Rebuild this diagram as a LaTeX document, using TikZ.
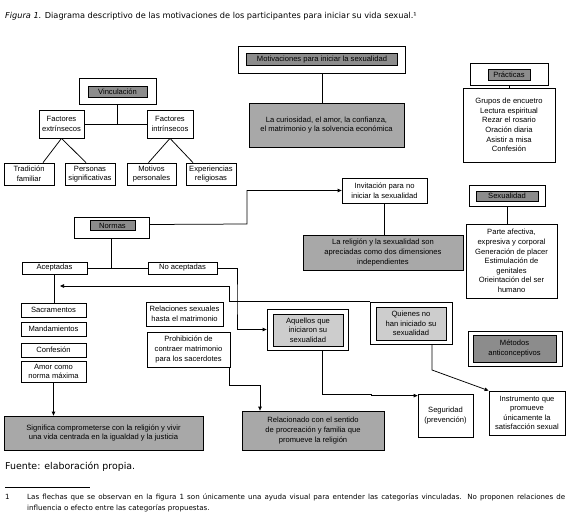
\documentclass[tikz,border=0pt]{standalone}
\usepackage{fontspec}
\setmainfont{Liberation Sans}
\newfontfamily\ttlfont{DejaVu Sans}
\usetikzlibrary{arrows.meta,calc}
\newcommand\dgfont{\fontsize{7.6}{9.6}\selectfont}
\definecolor{gdark}{HTML}{8C8C8C}
\definecolor{gmid}{HTML}{A8A8A8}
\definecolor{glight}{HTML}{CDCDCD}
\begin{document}
\begin{tikzpicture}[x=1pt,y=-1pt,
  bx/.style={draw,line width=0.75pt,inner sep=0pt,align=center,font=\dgfont,fill=white},
  outer/.style={draw,line width=0.75pt,inner sep=0pt,fill=white},
  hdr/.style={draw,line width=0.5pt,inner sep=0pt,align=center,font=\dgfont,fill=gdark},
  mid/.style={bx,fill=gmid},
  lite/.style={draw,line width=0.5pt,inner sep=0pt,align=center,font=\dgfont,fill=glight},
  ln/.style={line width=0.75pt},
  arr/.style={line width=0.75pt,-{Triangle[length=4pt,width=3.5pt]}},
  wd/.style={minimum width=#1},
  ht/.style={minimum height=#1}]
\useasboundingbox (0,0) rectangle (567,522);

% title
\node[anchor=west,inner sep=0pt,font=\ttlfont\fontsize{8.2}{9}\selectfont] (title) at (5,16)
  {\textit{Figura 1.} Diagrama descriptivo de las motivaciones de los participantes para iniciar su vida sexual.¹};

% Motivaciones
\node[outer,wd=167,ht=27] (motO) at (322,59.5) {};
\node[hdr,wd=151,ht=12] (motI) at (322,59.5) {Motivaciones para iniciar la sexualidad};
\node[mid,wd=155,ht=44] (cur) at (326.5,125) {La curiosidad, el amor, la confianza,\\el matrimonio y la solvencia económica};
\draw[ln] (motO.south) -- (motO.south |- cur.north);

% Practicas
\node[outer,wd=78,ht=22] (pracO) at (509,74) {};
\node[hdr,wd=42,ht=11] (pracI) at (509,74.5) {Prácticas};
\node[bx,wd=92,ht=74] (pracL) at (509,125) {Grupos de encuetro\\Lectura espiritual\\Rezar el rosario\\Oración diaria\\Asistir a misa\\Confesión};
\draw[ln] (pracO.south) -- (pracL.north);

% Vinculacion
\node[outer,wd=77,ht=26] (vinO) at (117.5,91) {};
\node[hdr,wd=59,ht=11] (vinI) at (117.5,92) {Vinculación};
\node[bx,wd=45,ht=28] (fext) at (61.5,124) {Factores\\extrínsecos};
\node[bx,wd=46,ht=28] (fint) at (170,124) {Factores\\intrínsecos};
\draw[ln] (fext.east) -- (fint.west);
\draw[ln] (vinO.south) -- (vinO.south |- fext.east);
\node[bx,wd=50,ht=22] (trad) at (29,174) {Tradición\\familiar};
\node[bx,wd=50,ht=22] (pers) at (90,174) {Personas\\significativas};
\node[bx,wd=49,ht=22] (moti) at (151.5,174) {Motivos\\personales};
\node[bx,wd=50,ht=22] (expe) at (211,174) {Experiencias\\religiosas};
\draw[ln] (fext.south) -- ([xshift=14pt]trad.north);
\draw[ln] (fext.south) -- ([xshift=-4pt]pers.north);
\draw[ln] (fint.south) -- ([xshift=-3pt]moti.north);
\draw[ln] (fint.south) -- ([xshift=-18pt]expe.north);

% Normas
\node[outer,wd=75,ht=21] (normO) at (111.5,227.5) {};
\node[hdr,wd=45,ht=10] (normI) at (112.5,225.5) {Normas};
\node[bx,wd=85,ht=25] (inv) at (384.5,190.5) {Invitación para no\\iniciar la sexualidad};
\coordinate (k1) at (247,224);
\draw[arr] ([yshift=3pt]normO.east) -- (k1) |- (inv.west);
\node[mid,wd=160,ht=35] (rel) at (383,252.5) {La religión y la sexualidad son\\apreciadas como dos dimensiones\\independientes};
\draw[ln] (inv.south) -- (inv.south |- rel.north);

% Sexualidad
\node[outer,wd=76,ht=21] (sexO) at (507,195.5) {};
\node[hdr,wd=62,ht=10] (sexI) at (507,196) {Sexualidad};
\node[bx,wd=91,ht=74] (sexL) at (511.5,261) {Parte afectiva,\\expresiva y corporal\\Generación de placer\\Estimulación de\\genitales\\Orieintación del ser\\humano};
\draw[ln] (sexO.south) -- (sexO.south |- sexL.north);

% Aceptadas / No aceptadas
\node[bx,wd=65,ht=12] (acep) at (54.5,268) {Aceptadas};
\node[bx,wd=69,ht=12] (noac) at (182.5,268) {No aceptadas};
\draw[ln] (acep.east) -- (noac.west);
\draw[ln] (normO.south) -- (normO.south |- acep.east);
\node[bx,wd=65,ht=14] (sacr) at (53.5,310) {Sacramentos};
\node[bx,wd=65,ht=14] (mand) at (53.5,329) {Mandamientos};
\node[bx,wd=65,ht=14] (conf) at (53.5,350) {Confesión};
\node[bx,wd=65,ht=21] (amor) at (53.5,371.5) {Amor como\\norma máxima};
\draw[ln] (acep.south) -- (acep.south |- sacr.north);
\node[mid,wd=199,ht=34] (sig) at (103.5,433) {Significa comprometerse con la religión y vivir\\una vida centrada en la igualdad y la justicia};
\draw[arr] (amor.south) -- (amor.south |- sig.north);

\node[bx,wd=77,ht=24] (relsex) at (184.5,314) {Relaciones sexuales\\hasta el matrimonio};
\node[bx,wd=83,ht=35] (proh) at (188.5,349.5) {Prohibición de\\contraer matrimonio\\para los sacerdotes};

% Aquellos / Quienes
\node[outer,wd=81,ht=41] (aqO) at (307.5,329.5) {};
\node[lite,wd=70,ht=32] (aqI) at (308,330) {Aquellos que\\iniciaron su\\sexualidad};
\node[outer,wd=82,ht=42] (quO) at (411,323) {};
\node[lite,wd=70,ht=33] (quI) at (411,323.5) {Quienes no\\han iniciado su\\sexualidad};
\node[outer,wd=94,ht=35] (metO) at (515,348.5) {};
\node[hdr,wd=83,ht=27] (metI) at (514.5,348.5) {Métodos\\anticonceptivos};

\coordinate (k2) at (237,300);
\draw[arr] (noac.east) -| (k2) |- (aqO.west);
\coordinate (k3) at (229,286);
\coordinate (k4) at (60,286);
\draw[arr] (quO.north west) -| (k3) -- (k4);

\node[mid,wd=142,ht=39] (relac) at (313,430.5) {Relacionado con el sentido\\de procreación y familia que\\promueve la religión};
\coordinate (k5) at (260,385);
\draw[arr] ([xshift=-1pt]proh.south east) |- (k5) -- (k5 |- relac.north);

\node[bx,wd=55,ht=43] (seg) at (445.5,415.5) {Seguridad\\(prevención)};
\coordinate (k6) at (322,371);
\coordinate (k7) at (371,394);
\draw[arr] (k6 |- aqO.south) |- (k7) |- ([yshift=-2pt]seg.north west);

\node[bx,wd=76,ht=44] (inst) at (527,413) {Instrumento que\\promueve\\únicamente la\\satisfacción sexual};
\coordinate (k8) at (432,370);
\draw[arr] (k8 |- quO.south) -- (k8) -- (inst.north west);

% source and footnote
\node[anchor=west,inner sep=0pt,font=\ttlfont\fontsize{9.4}{10}\selectfont] (src) at (5,467) {Fuente: elaboración propia.};
\coordinate (f1) at (5,487);
\coordinate (f2) at (90,487);
\draw[line width=0.6pt] (f1) -- (f2);
\node[anchor=west,inner sep=0pt,font=\ttlfont\fontsize{7.1}{8}\selectfont] (fn1) at (5,497) {1};
\node[anchor=west,inner sep=0pt,font=\ttlfont\fontsize{7.1}{8}\selectfont] (fn2) at (27,497) {\makebox[538pt][s]{Las flechas que se observan en la figura 1 son únicamente una ayuda visual para entender las categorías vinculadas. No proponen relaciones de}};
\node[anchor=west,inner sep=0pt,font=\ttlfont\fontsize{7.1}{8}\selectfont] (fn3) at (27,508) {influencia o efecto entre las categorías propuestas.};
\end{tikzpicture}
\end{document}
